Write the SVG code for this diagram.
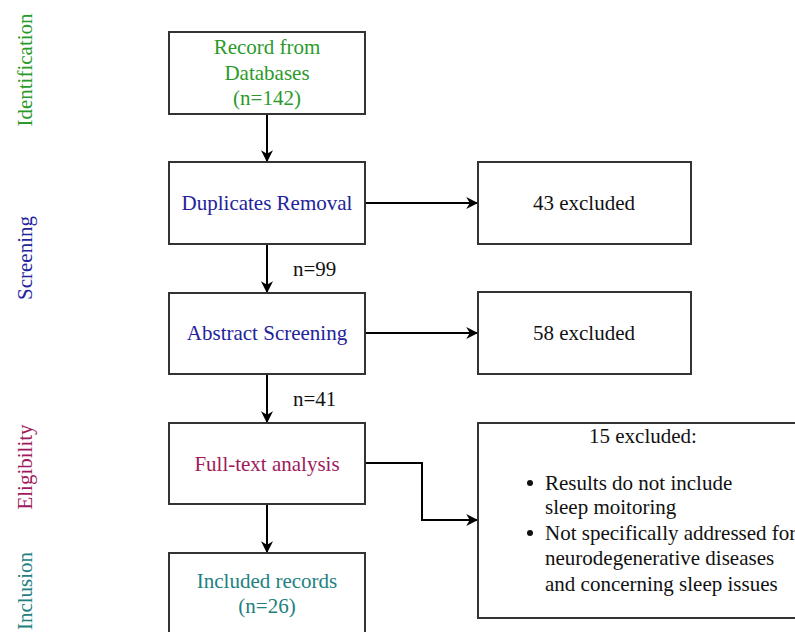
<svg xmlns="http://www.w3.org/2000/svg" width="795" height="632" viewBox="0 0 795 632">
<defs>
<style>
text{font-family:"Liberation Serif","Times New Roman",serif;font-size:21px;}
.c{text-anchor:middle;}
.box{fill:#fff;stroke:#333;stroke-width:2;}
.con{fill:none;stroke:#000;stroke-width:2;}
.g{fill:#2a9a2a;}
.b{fill:#23239c;}
.m{fill:#9e1a5c;}
.t{fill:#227f7f;}
.k{fill:#111;}
</style>
<marker id="ah" viewBox="0 0 10 10" refX="9" refY="5" markerWidth="12" markerHeight="12" markerUnits="userSpaceOnUse" orient="auto">
<path d="M0,0 L10,5 L0,10 L3,5 Z" fill="#000"/>
</marker>
</defs>
<rect width="795" height="632" fill="#fff"/>
<g id="phase-labels">
<text class="c g" transform="translate(32,70) rotate(-90)">Identification</text>
<text class="c b" transform="translate(32,258) rotate(-90)">Screening</text>
<text class="c m" transform="translate(32,467) rotate(-90)">Eligibility</text>
<text class="c t" transform="translate(32,591) rotate(-90)">Inclusion</text>
</g>
<g id="connectors">
<path class="con" d="M267,114 V161" marker-end="url(#ah)"/>
<path class="con" d="M267,244 V292" marker-end="url(#ah)"/>
<path class="con" d="M267,374 V422" marker-end="url(#ah)"/>
<path class="con" d="M267,504 V552" marker-end="url(#ah)"/>
<path class="con" d="M365,203 H477" marker-end="url(#ah)"/>
<path class="con" d="M365,333 H477" marker-end="url(#ah)"/>
<path class="con" d="M365,463 H422 V520 H477" marker-end="url(#ah)"/>
<text class="k" x="293" y="276">n=99</text>
<text class="k" x="293" y="406">n=41</text>
</g>
<g id="records">
<rect class="box" x="169" y="32" width="196" height="82"/>
<text class="c g" x="267" y="54">Record from</text>
<text class="c g" x="267" y="80">Databases</text>
<text class="c g" x="267" y="105">(n=142)</text>
</g>
<g id="duplicates">
<rect class="box" x="169" y="162" width="196" height="82"/>
<text class="c b" x="267" y="210">Duplicates Removal</text>
</g>
<g id="abstract">
<rect class="box" x="169" y="293" width="196" height="81"/>
<text class="c b" x="267" y="340">Abstract Screening</text>
</g>
<g id="fulltext">
<rect class="box" x="169" y="423" width="196" height="81"/>
<text class="c m" x="267" y="471">Full-text analysis</text>
</g>
<g id="included">
<rect class="box" x="169" y="553" width="196" height="100"/>
<text class="c t" x="267" y="588">Included records</text>
<text class="c t" x="267" y="613">(n=26)</text>
</g>
<g id="excluded43">
<rect class="box" x="478" y="162" width="213" height="82"/>
<text class="c k" x="584" y="210">43 excluded</text>
</g>
<g id="excluded58">
<rect class="box" x="478" y="292" width="213" height="82"/>
<text class="c k" x="584" y="340">58 excluded</text>
</g>
<g id="excluded15">
<rect class="box" x="478" y="423" width="340" height="195"/>
<text class="c k" x="643" y="443">15 excluded:</text>
<circle cx="530" cy="483" r="3" fill="#111"/>
<text class="k" x="545" y="490">Results do not include</text>
<text class="k" x="545" y="514">sleep moitoring</text>
<circle cx="530" cy="533" r="3" fill="#111"/>
<text class="k" x="545" y="540">Not specifically addressed for</text>
<text class="k" x="545" y="565">neurodegenerative diseases</text>
<text class="k" x="545" y="591">and concerning sleep issues</text>
</g>
</svg>
